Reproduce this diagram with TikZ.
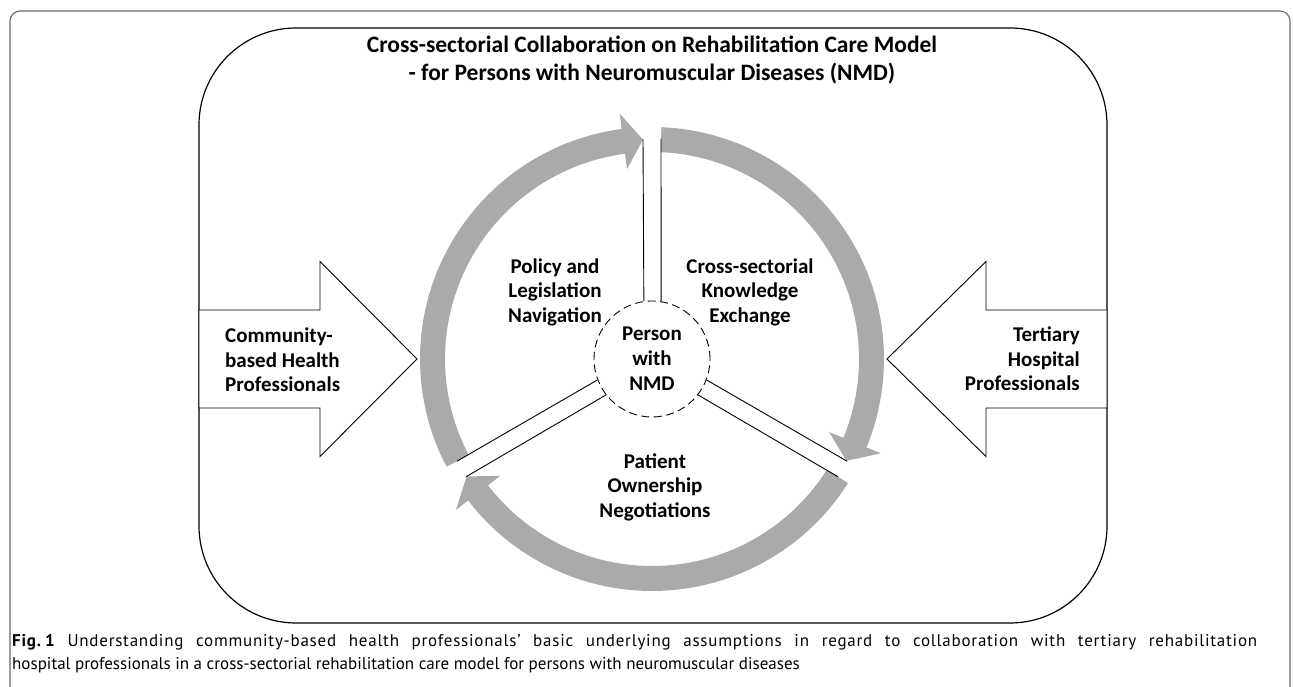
\documentclass[tikz,border=0pt]{standalone}
\usepackage{fontspec}
\setmainfont{Carlito}
\newfontfamily\capfont{PT Sans}
\newfontfamily\capfontwide[LetterSpace=4.5]{PT Sans}
\usetikzlibrary{calc}
\definecolor{ringgray}{RGB}{170,170,170}
\definecolor{framegray}{RGB}{105,105,105}
\begin{document}
\begin{tikzpicture}[x=1pt,y=1pt,
  lbl/.style={font=\fontsize{21}{24.5}\selectfont\bfseries, inner sep=0pt, align=center},
  titlelbl/.style={font=\fontsize{23.5}{27}\selectfont\bfseries, inner sep=0pt, anchor=base},
  caplbl/.style={font=\capfont\fontsize{17}{25}\selectfont, inner sep=0pt, anchor=base west},
  blockarrow/.style={draw=black, line width=0.9pt, fill=white, line join=miter},
  spokeline/.style={draw=black, line width=0.9pt},
  ringpart/.style={fill=ringgray},
  personcircle/.style={circle, draw=black, line width=0.9pt, dash pattern=on 8pt off 4.5pt,
     minimum size=116pt, inner sep=0pt, font=\fontsize{21}{25}\selectfont\bfseries, align=center}
]
\useasboundingbox (0,0) rectangle (1293,687);
% outer frame (open at bottom)
\draw[framegray, line width=1.1pt, rounded corners=10pt] (10,-2) -- (10,676) -- (1290,676) -- (1290,-2);
% inner rounded rectangle
\draw[black, line width=1.2pt, rounded corners=97pt] (199,64) rectangle (1107,659);

% block arrows
\draw[blockarrow] (199,377) -- (320,377) -- (320,425.5) -- (417,328) -- (320,230.5) -- (320,279) -- (199,279) -- cycle;
\draw[blockarrow] (1107,377) -- (986,377) -- (986,425.5) -- (887,328) -- (986,230.5) -- (986,279) -- (1107,279) -- cycle;

\coordinate (C) at (652,328);
% ring with arrowheads
\foreach \s/\b/\t in {207.65/97.5/92.35, 87.65/-22.4/-27.65, -32.35/-142.4/-147.65} {
  \fill[ringpart] ($(C)+(\s:232pt)$) arc[start angle=\s, end angle=\b, radius=232pt]
    -- ($(C)+(\b:247.5pt)$) -- ($(C)+(\t:219.5pt)$) -- ($(C)+(\b:191.5pt)$)
    -- ($(C)+(\b:207pt)$) arc[start angle=\b, end angle=\s, radius=207pt] -- cycle;
}

% centre
\node[personcircle] (person) at (C) {Person\\with\\NMD};
\foreach \a [evaluate=\a as \al using \a+8.93, evaluate=\a as \ar using \a-8.93,
             evaluate=\a as \pl using \a+90, evaluate=\a as \pr using \a-90] in {90,-30,210} {
  \coordinate (sl\a) at ($(C)+(\a:220pt)+(\pl:9pt)$);
  \coordinate (sr\a) at ($(C)+(\a:220pt)+(\pr:9pt)$);
  \draw[spokeline] (person.\al) -- (sl\a);
  \draw[spokeline] (person.\ar) -- (sr\a);
}

% labels
\node[titlelbl] (title1) at (652,634) {Cross-sectorial Collaboration on Rehabilitation Care Model};
\node[titlelbl] (title2) at (652,606) {- for Persons with Neuromuscular Diseases (NMD)};
\node[lbl] (policy) at (555,395) {Policy and\\Legislation\\Navigation};
\node[lbl] (knowledge) at (750,395) {Cross-sectorial\\Knowledge\\Exchange};
\node[lbl] (patient) at (655,200) {Patient\\Ownership\\Negotiations};
\node[lbl, anchor=west, align=left] (community) at (225,327) {Community-\\based Health\\Professionals};
\node[lbl, anchor=east, align=right] (tertiary) at (1080,328) {Tertiary\\Hospital\\Professionals};

% caption
\node[caplbl] (cap1) at (12,40) {\capfontwide\hbox to 1245pt{\textbf{Fig.\hspace{0.25em}1}\hspace{0.7em}Understanding community-based health professionals’ basic underlying assumptions in regard to collaboration with tertiary rehabilitation}};
\node[caplbl] (cap2) at (12,17) {hospital professionals in a cross-sectorial rehabilitation care model for persons with neuromuscular diseases};
\end{tikzpicture}
\end{document}
